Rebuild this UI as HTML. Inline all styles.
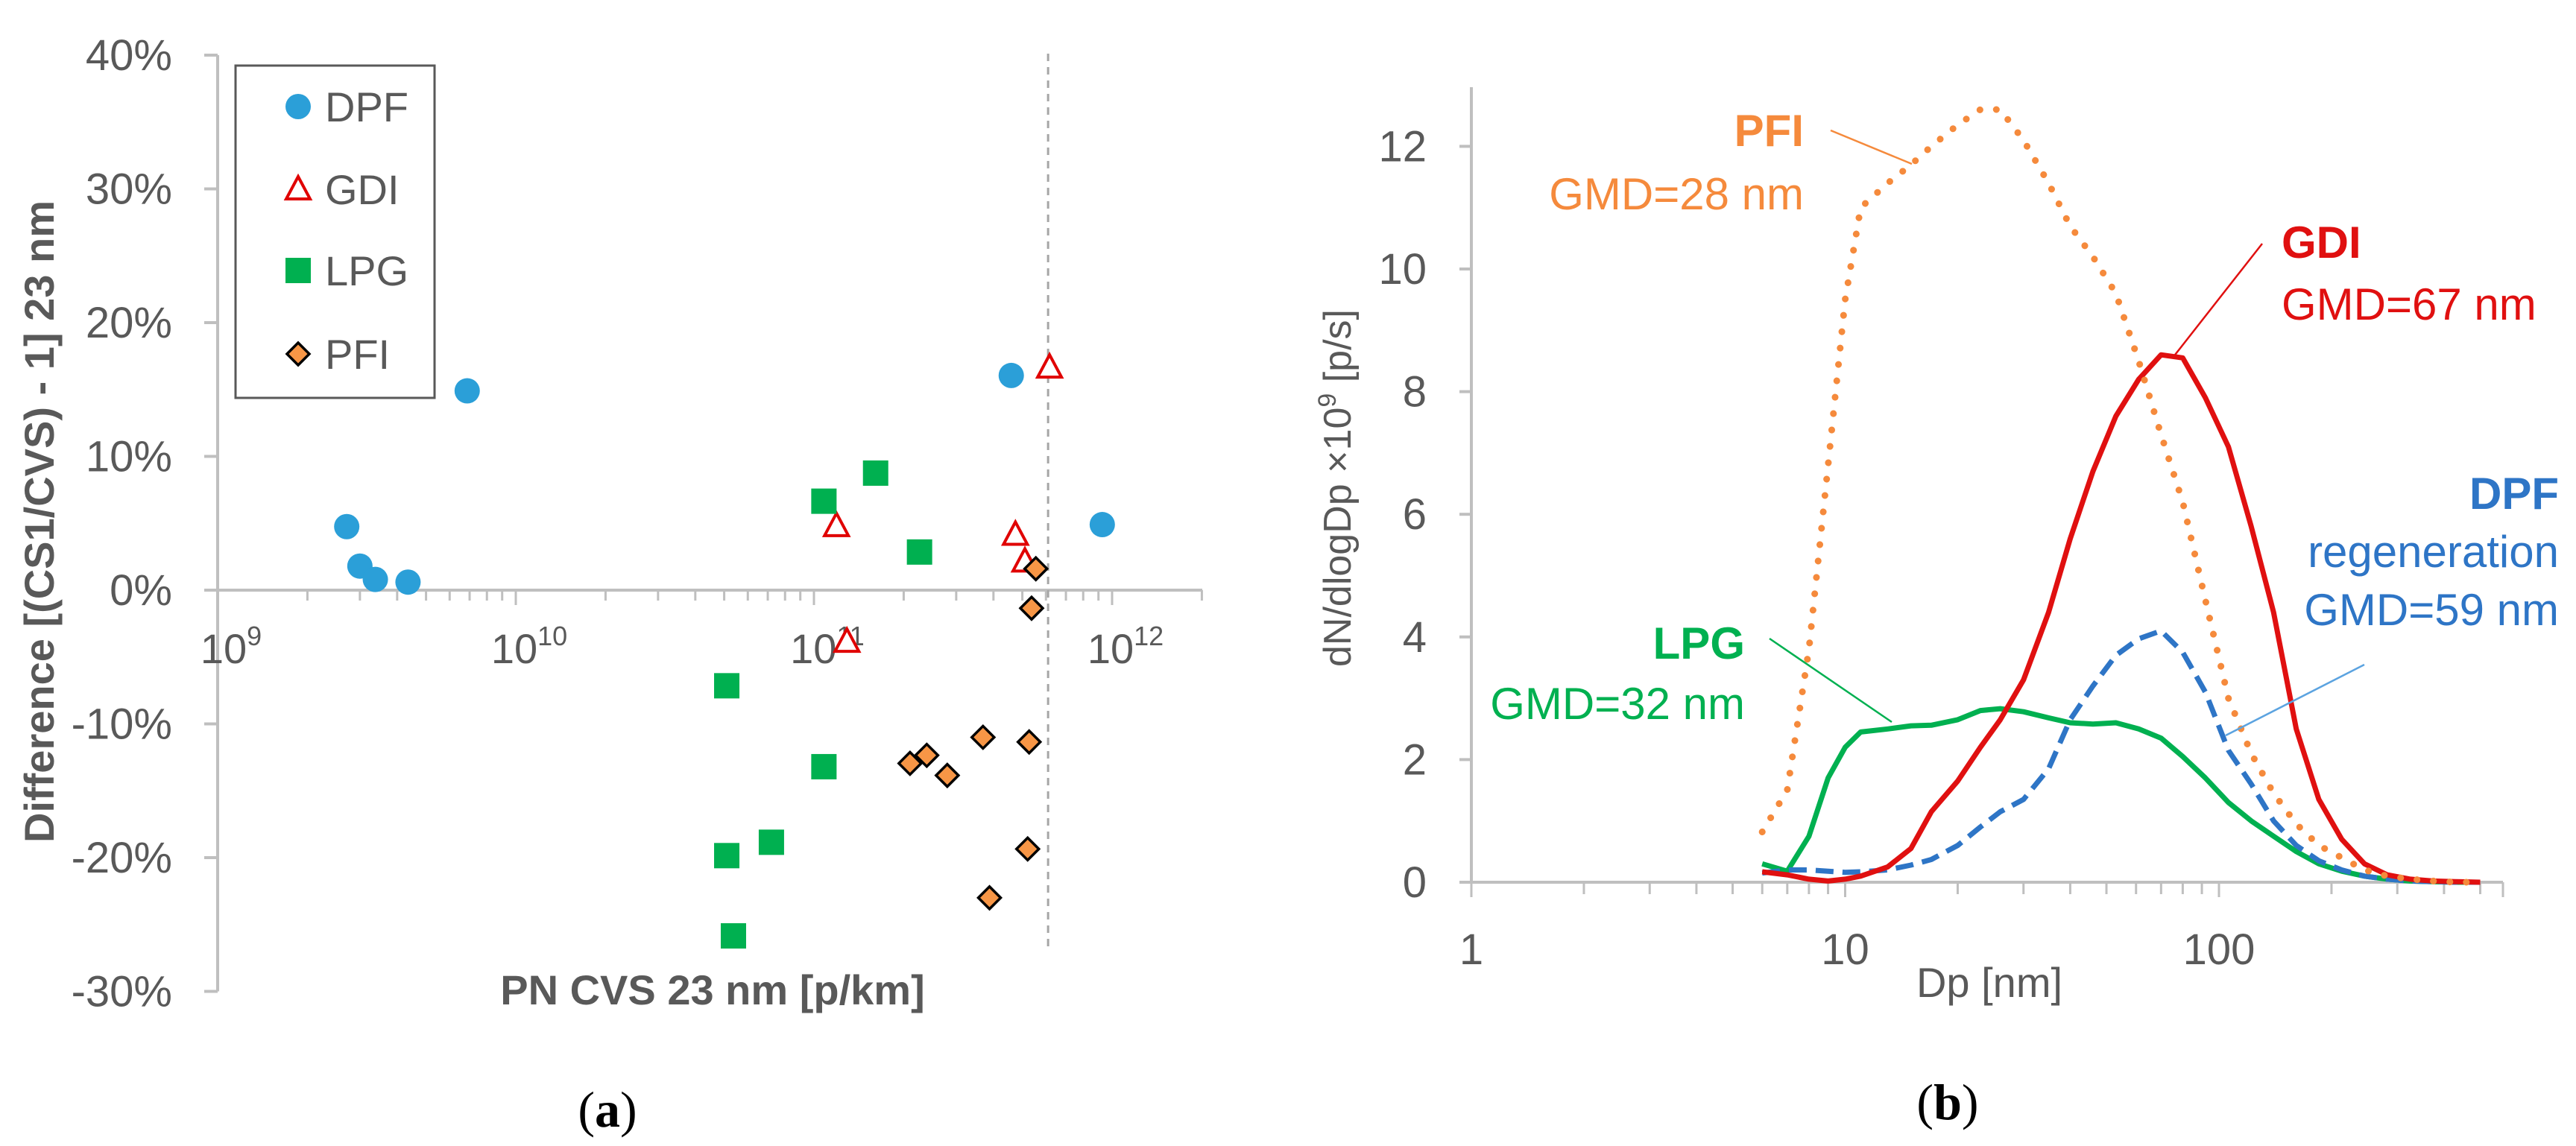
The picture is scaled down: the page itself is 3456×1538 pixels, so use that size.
<!DOCTYPE html>
<html><head><meta charset="utf-8"><style>
html,body{margin:0;padding:0;background:#fff;}
svg{display:block;font-family:"Liberation Sans",sans-serif;}
</style></head><body>
<svg id="fig" width="3456" height="1538" viewBox="0 0 3456 1538" xmlns="http://www.w3.org/2000/svg">
<g id="left"></g>
<g id="right"></g>
<text x="815" y="1512" font-family="Liberation Serif,serif" font-size="68" text-anchor="middle">(<tspan font-weight="bold">a</tspan>)</text>
<text x="2613" y="1502" font-family="Liberation Serif,serif" font-size="68" text-anchor="middle">(<tspan font-weight="bold">b</tspan>)</text>
</svg>
<script>
// ---------- Chart (a) data ----------
const dpfX=[2.71e9,3.0e9,3.38e9,4.35e9,6.87e9,4.59e11,9.27e11];
const dpfY=[4.75,1.8,0.8,0.6,14.9,16.05,4.9];
const gdiX=[1.19e11,1.29e11,4.74e11,5.1e11,6.17e11];
const gdiY=[4.8,-3.85,4.15,2.15,16.65];
const lpgX=[1.08e11,1.61e11,2.26e11,5.1e10,1.08e11,5.1e10,7.2e10,5.37e10];
const lpgY=[6.65,8.75,2.85,-7.15,-13.2,-19.85,-18.85,-25.85];
const pfiX=[5.55e11,5.37e11,3.69e11,5.27e11,2.1e11,2.39e11,2.8e11,5.21e11,3.88e11];
const pfiY=[1.6,-1.35,-11,-11.35,-12.95,-12.35,-13.85,-19.35,-23];
const yTicksA=[40,30,20,10,0,-10,-20,-30];
const xExpA=[9,10,11,12];
const refLineX=6.1e11;
// ---------- Chart (b) data ----------
const dp=[6,7,8,9,10,11,13,15,17,20,23,26,30,35,40,46,53,61,70,80,92,106,122,140,161,185,213,245,282,325,374,430,500];
const pfiN=[0.82,1.5,3.8,6.8,9.5,11.0,11.4,11.7,12.0,12.35,12.6,12.6,12.1,11.4,10.7,10.2,9.6,8.5,7.3,6.2,4.6,3.0,2.1,1.45,0.95,0.6,0.4,0.2,0.1,0.05,0.02,0,0];
const gdiN=[0.17,0.12,0.05,0.02,0.05,0.1,0.25,0.55,1.15,1.65,2.2,2.65,3.3,4.4,5.6,6.7,7.6,8.2,8.6,8.55,7.9,7.1,5.8,4.4,2.5,1.35,0.7,0.3,0.12,0.05,0.02,0.01,0];
const lpgN=[0.3,0.18,0.75,1.7,2.2,2.45,2.5,2.55,2.56,2.65,2.8,2.83,2.78,2.68,2.6,2.58,2.6,2.5,2.35,2.05,1.7,1.3,1.0,0.75,0.5,0.3,0.18,0.1,0.05,0.02,0.01,0,0];
const dpfN=[0.15,0.2,0.2,0.18,0.16,0.17,0.2,0.28,0.37,0.6,0.9,1.15,1.35,1.85,2.65,3.2,3.7,3.97,4.1,3.75,3.1,2.15,1.6,1.0,0.6,0.35,0.2,0.1,0.05,0.02,0.01,0,0];
const yTicksB=[0,2,4,6,8,10,12];
const xTicksB=[1,10,100];

const NS="http://www.w3.org/2000/svg";
function mk(parent,tag,attrs,text){const e=document.createElementNS(NS,tag);for(const k in attrs)e.setAttribute(k,attrs[k]);if(text!==undefined)e.textContent=text;parent.appendChild(e);return e;}
const AX="#BFBFBF", TX="#595959";

// ----- chart (a) -----
const L=document.getElementById('left');
const xL=v=>292+(Math.log10(v)-9)*400;
const yL=p=>792-p*17.95;
let e;
e=mk(L,'line',{x1:292,y1:yL(40),x2:292,y2:yL(-30),stroke:AX,'stroke-width':4});

e=mk(L,'line',{x1:292,y1:yL(0),x2:1613,y2:yL(0),stroke:AX,'stroke-width':4});

yTicksA.forEach(t=>{
  mk(L,'line',{x1:274,y1:yL(t),x2:292,y2:yL(t),stroke:AX,'stroke-width':4});
  e=mk(L,'text',{x:231,y:yL(t)+20,'font-size':58,fill:TX,'text-anchor':'end'},t+'%');
  
});
for(let d=9;d<12.4;d++){for(let m=1;m<10;m++){const v=m*Math.pow(10,d);const x=xL(v);if(x>1613)break;
  mk(L,'line',{x1:x,y1:yL(0),x2:x,y2:yL(0)+(m===1?20:14),stroke:AX,'stroke-width':3});}}
xExpA.forEach(p=>{
  e=mk(L,'text',{x:xL(Math.pow(10,p))+18,y:890,'font-size':56,fill:TX,'text-anchor':'middle'});
  
  mk(e,'tspan',{},'10');mk(e,'tspan',{'font-size':36,dy:-24},String(p));
});
e=mk(L,'line',{x1:xL(refLineX),y1:72,x2:xL(refLineX),y2:1274,stroke:'#A6A6A6','stroke-width':3,'stroke-dasharray':'10 8'});

e=mk(L,'text',{x:0,y:0,'font-size':56,'font-weight':'bold',fill:TX,'text-anchor':'middle',transform:'translate(72,700) rotate(-90)'},'Difference [(CS1/CVS) - 1] 23 nm');

e=mk(L,'text',{x:956,y:1348,'font-size':56,'font-weight':'bold',fill:TX,'text-anchor':'middle'},'PN CVS 23 nm [p/km]');


function marker(g,type,x,y){
  if(type==='DPF') return mk(g,'circle',{cx:x,cy:y,r:17,fill:'#2B9FD8'});
  if(type==='GDI') return mk(g,'path',{d:`M${x},${y-17} L${x+16},${y+13} L${x-16},${y+13} Z`,fill:'#fff',stroke:'#E00000','stroke-width':4});
  if(type==='LPG') return mk(g,'rect',{x:x-17,y:y-17,width:34,height:34,fill:'#00B050'});
  return mk(g,'path',{d:`M${x},${y-15} L${x+15},${y} L${x},${y+15} L${x-15},${y} Z`,fill:'#F79646',stroke:'#000','stroke-width':3.5});
}
[['DPF',dpfX,dpfY],['GDI',gdiX,gdiY],['LPG',lpgX,lpgY],['PFI',pfiX,pfiY]].forEach(([n,xs,ys])=>{
  const g=mk(L,'g',{});
  
  
  xs.forEach((v,i)=>{const m=marker(g,n,xL(v),yL(ys[i]));
    
    });
});
const lg=mk(L,'g',{});

mk(lg,'rect',{x:316,y:88,width:267,height:446,fill:'#fff',stroke:'#595959','stroke-width':3});
[['DPF',143],['GDI',254],['LPG',363],['PFI',475]].forEach(([n,y])=>{
  const it=mk(lg,'g',{});
  
  
  marker(it,n,400,y);
  mk(it,'text',{x:436,y:y+20,'font-size':56,fill:TX},n);
});

// ----- chart (b) -----
const R=document.getElementById('right');
const xR=d=>1974+Math.log10(d)*501.5;
const yR=v=>1184-v*82.3;
e=mk(R,'line',{x1:1974,y1:117,x2:1974,y2:1184,stroke:AX,'stroke-width':4});

e=mk(R,'line',{x1:1974,y1:1184,x2:3358,y2:1184,stroke:AX,'stroke-width':4});

yTicksB.forEach(t=>{
  mk(R,'line',{x1:1958,y1:yR(t),x2:1974,y2:yR(t),stroke:AX,'stroke-width':4});
  e=mk(R,'text',{x:1914,y:yR(t)+20,'font-size':58,fill:TX,'text-anchor':'end'},String(t));
  
});
for(let d=0;d<3;d++){for(let m=1;m<10;m++){const x=xR(m*Math.pow(10,d));if(x>3360)break;
  mk(R,'line',{x1:x,y1:1184,x2:x,y2:1184+(m===1?20:16),stroke:AX,'stroke-width':3});}}
mk(R,'line',{x1:3358,y1:1184,x2:3358,y2:1204,stroke:AX,'stroke-width':3});
xTicksB.forEach(t=>{
  e=mk(R,'text',{x:xR(t),y:1294,'font-size':58,fill:TX,'text-anchor':'middle'},String(t));
  
});
e=mk(R,'text',{x:2669,y:1338,'font-size':56,fill:TX,'text-anchor':'middle'},'Dp [nm]');

e=mk(R,'text',{x:0,y:0,'font-size':52,fill:TX,'text-anchor':'middle',transform:'translate(1812,655) rotate(-90)'});

mk(e,'tspan',{},'dN/dlogDp ×10');mk(e,'tspan',{'font-size':34,dy:-20},'9');mk(e,'tspan',{dy:20},' [p/s]');

function curve(vals,color,extra,name){
  const d=dp.map((x,i)=>(i?'L':'M')+xR(x).toFixed(1)+','+yR(vals[i]).toFixed(1)).join(' ');
  const p=mk(R,'path',Object.assign({d:d,fill:'none',stroke:color,'stroke-width':7,'stroke-linejoin':'round'},extra));
  
  
}
curve(lpgN,'#00B050',{},'line-lpg');
curve(dpfN,'#2E75C6',{'stroke-dasharray':'24 12'},'line-dpf');
curve(gdiN,'#E01010',{},'line-gdi');
curve(pfiN,'#F58A3C',{'stroke-dasharray':'0.1 22','stroke-linecap':'round','stroke-width':9},'line-pfi');

function ann(x,y,txt,color,anchor,bold,name){
  const t=mk(R,'text',{x:x,y:y,'font-size':60,fill:color,'text-anchor':anchor,'font-weight':bold?'bold':'normal'},txt);
  
  
}
function lead(x1,y1,x2,y2,color,name){
  const l=mk(R,'line',{x1:x1,y1:y1,x2:x2,y2:y2,stroke:color,'stroke-width':2.5});
  
  
}
ann(2420,196,'PFI','#F58A3C','end',true,'label-pfi');
ann(2420,281,'GMD=28 nm','#F58A3C','end',false,'label-pfi-gmd');
lead(2456,175,2565,220,'#F58A3C','leader-pfi');
ann(3061,346,'GDI','#E01010','start',true,'label-gdi');
ann(3061,429,'GMD=67 nm','#E01010','start',false,'label-gdi-gmd');
lead(3035,327,2915,480,'#E01010','leader-gdi');
ann(3433,683,'DPF','#2E75C6','end',true,'label-dpf');
ann(3433,761,'regeneration','#2E75C6','end',false,'label-dpf-regen');
ann(3433,839,'GMD=59 nm','#2E75C6','end',false,'label-dpf-gmd');
lead(3172,892,2986,987,'#5BA3E0','leader-dpf');
ann(2341,884,'LPG','#00B050','end',true,'label-lpg');
ann(2341,965,'GMD=32 nm','#00B050','end',false,'label-lpg-gmd');
lead(2374,857,2538,969,'#00B050','leader-lpg');
</script>
</body></html>
